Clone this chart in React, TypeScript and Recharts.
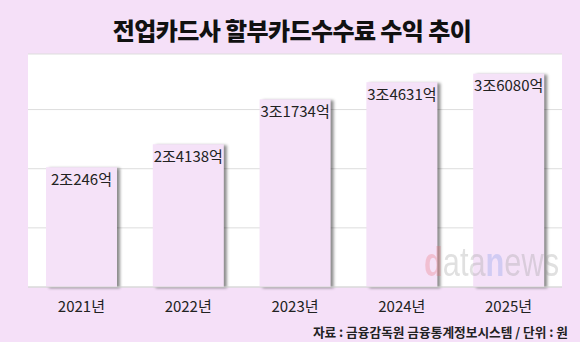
import React from "react";
import { BarChart, Bar, XAxis, YAxis, CartesianGrid, LabelList } from "recharts";

const years = ["2021년", "2022년", "2023년", "2024년", "2025년"];
const revenue = [2.0246, 2.4138, 3.1734, 3.4631, 3.608]; // 조원
const valueLabels = ["2조246억", "2조4138억", "3조1734억", "3조4631억", "3조6080억"];
const gridTicks = [0, 1, 2, 3, 3.94];

const data = years.map((year, i) => ({
  year,
  value: revenue[i],
  label: valueLabels[i],
}));

const BG = "#f5e0f8";
const BAR = "#f5e2f8";

const ShadowBar = (props: any) => {
  const { x, y, width, height } = props;
  return (
    <rect
      x={x}
      y={y}
      width={width}
      height={height}
      fill={BAR}
      style={{ filter: "drop-shadow(3px 1px 1.5px rgba(0,0,0,0.45))" }}
    />
  );
};

const App = () => {
  return (
    <div
      style={{
        position: "fixed",
        left: 0,
        top: 0,
        width: 580,
        height: 342,
        background: BG,
        fontFamily: "'Noto Sans CJK KR', 'Noto Sans', sans-serif",
        overflow: "hidden",
      }}
    >
      <div
        style={{
          position: "absolute",
          top: 13,
          width: 580,
          left: 2,
          textAlign: "center",
          fontSize: 24,
          fontWeight: 900,
          color: "#111",
          lineHeight: "34px",
          letterSpacing: -0.6,
        }}
      >
        전업카드사 할부카드수수료 수익 추이
      </div>
      <BarChart
        width={580}
        height={342}
        data={data}
        margin={{ top: 54, right: 18, bottom: 25, left: 28 }}
        barSize={71}
      >
        <CartesianGrid vertical={false} fill="#ffffff" stroke="#dddddd" />
        <XAxis
          dataKey="year"
          axisLine={{ stroke: "#d8d8d8" }}
          tickLine={false}
          height={30}
          tick={{ fill: "#222", fontSize: 15 }}
          tickMargin={8}
        />
        <YAxis hide domain={[0, 3.94]} ticks={gridTicks} />
        <Bar dataKey="value" shape={ShadowBar} isAnimationActive={false}>
          <LabelList
            dataKey="label"
            position="insideTop"
            offset={7}
            fill="#222"
            fontSize={15}
          />
        </Bar>
      </BarChart>
      <div
        style={{
          position: "absolute",
          left: 424,
          top: 239,
          fontSize: 41,
          lineHeight: "46px",
          fontFamily: "'Liberation Sans', sans-serif",
          transform: "scaleX(0.75)",
          transformOrigin: "left top",
          whiteSpace: "nowrap",
          opacity: 0.3,
          pointerEvents: "none",
        }}
      >
        <span style={{ color: "#e8707a", fontWeight: 700 }}>d</span>
        <span style={{ color: "#9a9a9a" }}>ata</span>
        <span style={{ color: "#7f97ea", fontWeight: 700 }}>n</span>
        <span style={{ color: "#9a9a9a" }}>ews</span>
      </div>
      <div
        style={{
          position: "absolute",
          right: 12,
          top: 323,
          fontSize: 12.7,
          fontWeight: 700,
          color: "#222",
          lineHeight: "18px",
          whiteSpace: "nowrap",
        }}
      >
        자료 : 금융감독원 금융통계정보시스템 / 단위 : 원
      </div>
    </div>
  );
};

export default App;
